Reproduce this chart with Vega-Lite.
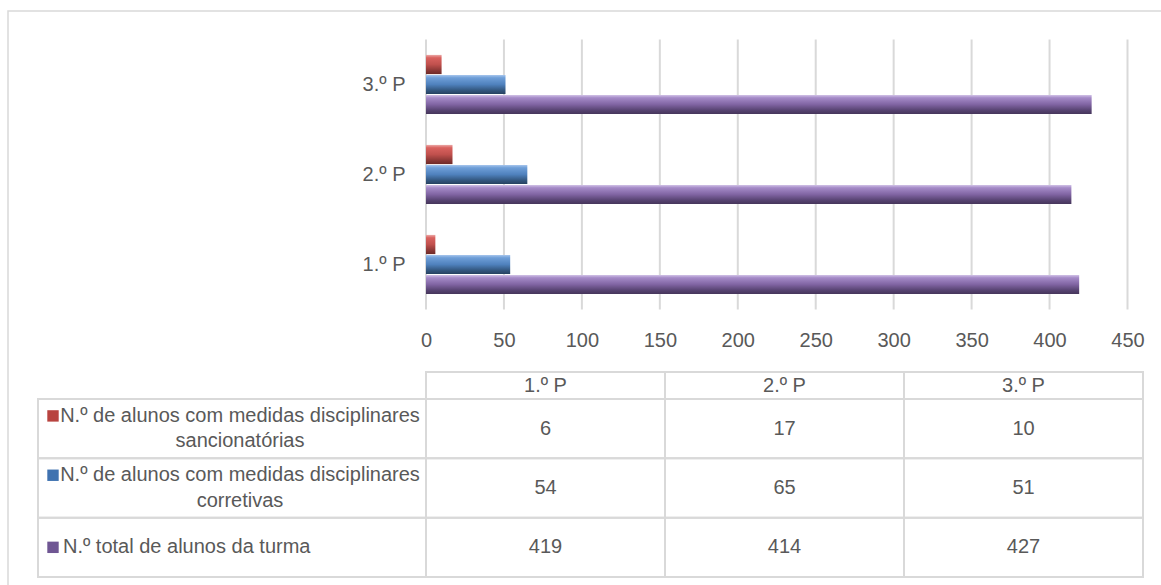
{
  "$schema": "https://vega.github.io/schema/vega-lite/v6.json",
  "width": 1156,
  "height": 577,
  "padding": {"left": 8, "top": 11, "right": -3, "bottom": -3},
  "autosize": {"type": "none"},
  "background": "white",
  "config": {
    "view": {"stroke": "#d9d9d9", "strokeWidth": 1.5},
    "font": "Liberation Sans",
    "text": {"font": "Liberation Sans", "fontSize": 20, "color": "#595959"},
    "axis": {"labelFont": "Liberation Sans", "labelFontSize": 20, "labelColor": "#595959", "title": null}
  },
  "datasets": {
    "dados": [
      {"periodo": "1.º P", "serie": "N.º de alunos com medidas disciplinares\nsancionatórias", "valor": 6},
      {"periodo": "2.º P", "serie": "N.º de alunos com medidas disciplinares\nsancionatórias", "valor": 17},
      {"periodo": "3.º P", "serie": "N.º de alunos com medidas disciplinares\nsancionatórias", "valor": 10},
      {"periodo": "1.º P", "serie": "N.º de alunos com medidas disciplinares\ncorretivas", "valor": 54},
      {"periodo": "2.º P", "serie": "N.º de alunos com medidas disciplinares\ncorretivas", "valor": 65},
      {"periodo": "3.º P", "serie": "N.º de alunos com medidas disciplinares\ncorretivas", "valor": 51},
      {"periodo": "1.º P", "serie": "N.º total de alunos da turma", "valor": 419},
      {"periodo": "2.º P", "serie": "N.º total de alunos da turma", "valor": 414},
      {"periodo": "3.º P", "serie": "N.º total de alunos da turma", "valor": 427}
    ],
    "grade": [
      {"v": 0}, {"v": 50}, {"v": 100}, {"v": 150}, {"v": 200},
      {"v": 250}, {"v": 300}, {"v": 350}, {"v": 400}, {"v": 450}
    ]
  },
  "data": {"name": "dados"},
  "layer": [
    {
      "encoding": {
        "x": {
          "field": "valor", "type": "quantitative",
          "scale": {"domain": [0, 450], "range": [418, 1119.5], "nice": false, "zero": true},
          "axis": {"orient": "bottom", "offset": -278.5, "values": [0, 50, 100, 150, 200, 250, 300, 350, 400, 450],
                   "grid": false, "domain": false, "ticks": false, "tickSize": 0,
                   "labelPadding": 20.5, "labelFlush": false, "labelOverlap": false, "title": null}
        },
        "y": {
          "field": "periodo", "type": "nominal",
          "scale": {"domain": ["3.º P", "2.º P", "1.º P"], "range": [28.5, 298.5], "paddingInner": 0, "paddingOuter": 0},
          "axis": {"orient": "left", "offset": -418, "domain": false, "ticks": false, "tickSize": 0, "grid": false, "labelPadding": 21, "title": null}
        }
      },
      "layer": [
        {
          "data": {"name": "grade"},
          "mark": {"type": "rule", "color": "#d9d9d9", "strokeWidth": 2},
          "encoding": {
            "x": {"field": "v", "type": "quantitative"},
            "y": {"datum": "3.º P", "type": "nominal", "bandPosition": 0},
            "y2": {"datum": "1.º P", "bandPosition": 1}
          }
        },
        {
          "encoding": {
            "yOffset": {
              "field": "serie", "type": "nominal",
              "scale": {"domain": ["N.º de alunos com medidas disciplinares\nsancionatórias", "N.º de alunos com medidas disciplinares\ncorretivas", "N.º total de alunos da turma"], "paddingInner": 0.04, "paddingOuter": 0.77}
            }
          },
          "layer": [
            {
              "transform": [{"filter": {"field": "serie", "equal": "N.º de alunos com medidas disciplinares\nsancionatórias"}}],
              "mark": {"type": "bar", "color": {"gradient": "linear", "x1": 0, "y1": 0, "x2": 0, "y2": 1,
                "stops": [{"offset": 0, "color": "#eba9a7"}, {"offset": 0.15, "color": "#d9625f"}, {"offset": 0.5, "color": "#c0504d"}, {"offset": 0.8, "color": "#8c3836"}, {"offset": 1, "color": "#6e2a28"}]}}
            },
            {
              "transform": [{"filter": {"field": "serie", "equal": "N.º de alunos com medidas disciplinares\ncorretivas"}}],
              "mark": {"type": "bar", "color": {"gradient": "linear", "x1": 0, "y1": 0, "x2": 0, "y2": 1,
                "stops": [{"offset": 0, "color": "#a9c7ee"}, {"offset": 0.15, "color": "#6f9fd8"}, {"offset": 0.5, "color": "#4f81bd"}, {"offset": 0.8, "color": "#33577f"}, {"offset": 1, "color": "#26415f"}]}}
            },
            {
              "transform": [{"filter": {"field": "serie", "equal": "N.º total de alunos da turma"}}],
              "mark": {"type": "bar", "color": {"gradient": "linear", "x1": 0, "y1": 0, "x2": 0, "y2": 1,
                "stops": [{"offset": 0, "color": "#d3c4e8"}, {"offset": 0.15, "color": "#a58bc8"}, {"offset": 0.5, "color": "#8064a2"}, {"offset": 0.8, "color": "#574371"}, {"offset": 1, "color": "#45355a"}]}}
            }
          ]
        }
      ]
    },
    {
      "layer": [
        {
          "transform": [{"filter": {"field": "serie", "equal": "N.º total de alunos da turma"}}],
          "encoding": {
            "x": {"field": "periodo", "type": "nominal", "scale": {"domain": ["1.º P", "2.º P", "3.º P"], "range": [418, 1135], "paddingInner": 0, "paddingOuter": 0}, "axis": null},
            "y": {"datum": "Período", "type": "nominal", "scale": {"domain": ["Período"], "range": [361, 388], "paddingInner": 0, "paddingOuter": 0}, "axis": null}
          },
          "layer": [
            {"mark": {"type": "rect", "filled": false, "stroke": "#d9d9d9", "strokeWidth": 2}},
            {"mark": {"type": "text", "align": "center", "baseline": "middle", "fontSize": 20, "color": "#595959"}, "encoding": {"text": {"field": "periodo"}}}
          ]
        },
        {
          "encoding": {
            "x": {"field": "periodo", "type": "nominal", "scale": {"domain": ["1.º P", "2.º P", "3.º P"], "range": [418, 1135], "paddingInner": 0, "paddingOuter": 0}, "axis": null},
            "y": {"field": "serie", "type": "nominal", "scale": {"domain": ["N.º de alunos com medidas disciplinares\nsancionatórias", "N.º de alunos com medidas disciplinares\ncorretivas", "N.º total de alunos da turma"], "range": [388, 566], "paddingInner": 0, "paddingOuter": 0}, "axis": null}
          },
          "layer": [
            {"mark": {"type": "rect", "filled": false, "stroke": "#d9d9d9", "strokeWidth": 2}},
            {"mark": {"type": "text", "align": "center", "baseline": "middle", "fontSize": 20, "color": "#595959"}, "encoding": {"text": {"field": "valor", "type": "quantitative"}}}
          ]
        }
      ],
      "resolve": {"scale": {"y": "independent"}}
    },
    {
      "transform": [{"filter": {"field": "periodo", "equal": "1.º P"}}],
      "encoding": {
        "x": {"datum": "Série", "type": "nominal", "scale": {"domain": ["Série"], "range": [30, 418], "paddingInner": 0, "paddingOuter": 0}, "axis": null},
        "y": {"field": "serie", "type": "nominal", "scale": {"domain": ["N.º de alunos com medidas disciplinares\nsancionatórias", "N.º de alunos com medidas disciplinares\ncorretivas", "N.º total de alunos da turma"], "range": [388, 566], "paddingInner": 0, "paddingOuter": 0}, "axis": null}
      },
      "layer": [
        {"mark": {"type": "rect", "filled": false, "stroke": "#d9d9d9", "strokeWidth": 2}},
        {
          "transform": [{"filter": {"field": "serie", "oneOf": ["N.º de alunos com medidas disciplinares\nsancionatórias", "N.º de alunos com medidas disciplinares\ncorretivas"]}}],
          "mark": {"type": "text", "align": "center", "baseline": "middle", "lineBreak": "\n", "lineHeight": 25.5, "dx": 8, "dy": -12.75, "fontSize": 20, "color": "#595959"},
          "encoding": {"text": {"field": "serie"}}
        },
        {
          "transform": [{"filter": {"field": "serie", "equal": "N.º total de alunos da turma"}}],
          "mark": {"type": "text", "align": "left", "baseline": "middle", "dx": -169, "fontSize": 20, "color": "#595959"},
          "encoding": {"text": {"field": "serie"}}
        },
        {
          "transform": [{"filter": {"field": "serie", "oneOf": ["N.º de alunos com medidas disciplinares\nsancionatórias", "N.º de alunos com medidas disciplinares\ncorretivas"]}}],
          "mark": {"type": "point", "shape": "square", "filled": true, "opacity": 1, "size": 130, "xOffset": -179, "yOffset": -12.75},
          "encoding": {"color": {"field": "serie", "type": "nominal", "scale": {"domain": ["N.º de alunos com medidas disciplinares\nsancionatórias", "N.º de alunos com medidas disciplinares\ncorretivas", "N.º total de alunos da turma"], "range": ["#b8433f", "#3f72b0", "#6f5693"]}, "legend": null}}
        },
        {
          "transform": [{"filter": {"field": "serie", "equal": "N.º total de alunos da turma"}}],
          "mark": {"type": "point", "shape": "square", "filled": true, "opacity": 1, "size": 130, "xOffset": -179},
          "encoding": {"color": {"field": "serie", "type": "nominal", "scale": {"domain": ["N.º de alunos com medidas disciplinares\nsancionatórias", "N.º de alunos com medidas disciplinares\ncorretivas", "N.º total de alunos da turma"], "range": ["#b8433f", "#3f72b0", "#6f5693"]}, "legend": null}}
        }
      ]
    }
  ],
  "resolve": {"scale": {"x": "independent", "y": "independent"}}
}
